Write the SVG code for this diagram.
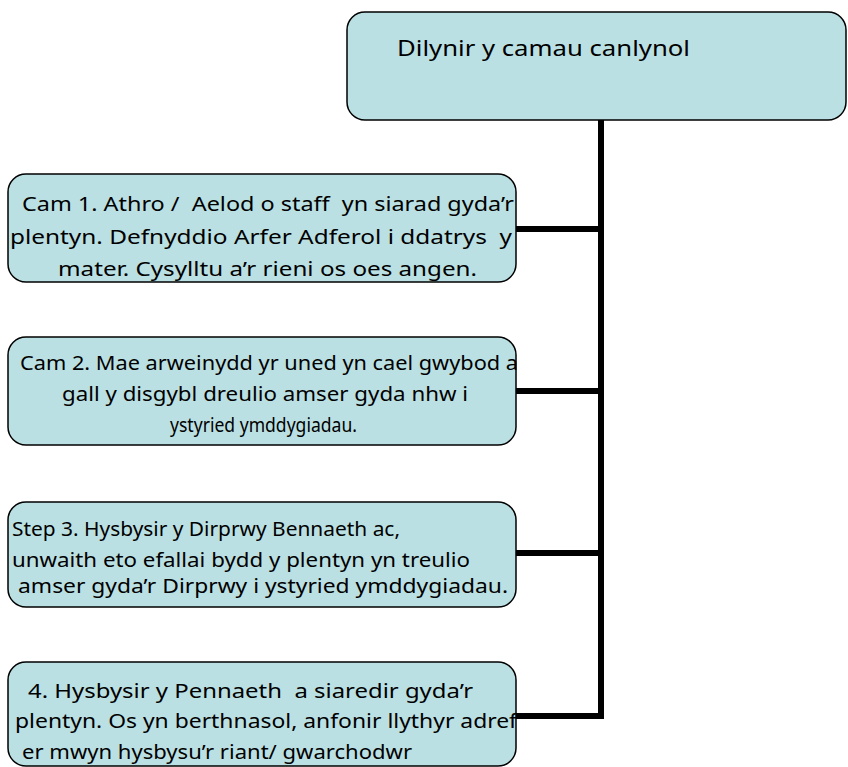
<svg xmlns="http://www.w3.org/2000/svg" width="848" height="767" viewBox="0 0 848 767">
<style>
.box{fill:#BBE0E3;stroke:#000;stroke-width:1.5}
.t{font-family:"Noto Sans","DejaVu Sans",sans-serif;font-size:19px;fill:#000;white-space:pre}
.h{font-family:"Noto Sans","DejaVu Sans",sans-serif;font-size:22px;fill:#000}
.c{fill:none;stroke:#000;stroke-width:6}
</style>
<rect width="848" height="767" fill="#fff"/>
<g id="connectors">
<path class="c" d="M601,120 V719"/>
<path class="c" d="M516,229 H604"/>
<path class="c" d="M516,391 H604"/>
<path class="c" d="M516,553 H604"/>
<path class="c" d="M516,716 H604"/>
</g>
<g id="top">
<rect class="box" x="347" y="12" width="499" height="108" rx="18"/>
<text class="h" x="397" y="56" textLength="293" lengthAdjust="spacingAndGlyphs">Dilynir y camau canlynol</text>
</g>
<g id="step1">
<rect class="box" x="8" y="174" width="508" height="108" rx="18"/>
<text class="t" xml:space="preserve" x="22" y="211" textLength="492" lengthAdjust="spacingAndGlyphs">Cam 1. Athro /  Aelod o staff  yn siarad gyda’r</text>
<text class="t" xml:space="preserve" x="10" y="244" textLength="502" lengthAdjust="spacingAndGlyphs">plentyn. Defnyddio Arfer Adferol i ddatrys  y</text>
<text class="t" x="58" y="276" textLength="419" lengthAdjust="spacingAndGlyphs">mater. Cysylltu a’r rieni os oes angen.</text>
</g>
<g id="step2">
<rect class="box" x="8" y="337" width="508" height="108" rx="18"/>
<text class="t" x="20" y="370" textLength="498" lengthAdjust="spacingAndGlyphs">Cam 2. Mae arweinydd yr uned yn cael gwybod a</text>
<text class="t" x="62" y="401" textLength="406" lengthAdjust="spacingAndGlyphs">gall y disgybl dreulio amser gyda nhw i</text>
<text class="t" x="170" y="432" textLength="187" lengthAdjust="spacingAndGlyphs">ystyried ymddygiadau.</text>
</g>
<g id="step3">
<rect class="box" x="8" y="502" width="508" height="105" rx="18"/>
<text class="t" x="12" y="536" textLength="388" lengthAdjust="spacingAndGlyphs">Step 3. Hysbysir y Dirprwy Bennaeth ac,</text>
<text class="t" x="12" y="567" textLength="458" lengthAdjust="spacingAndGlyphs">unwaith eto efallai bydd y plentyn yn treulio</text>
<text class="t" x="18" y="593" textLength="490" lengthAdjust="spacingAndGlyphs">amser gyda’r Dirprwy i ystyried ymddygiadau.</text>
</g>
<g id="step4">
<rect class="box" x="8" y="662" width="508" height="104" rx="18"/>
<text class="t" xml:space="preserve" x="28" y="698" textLength="445" lengthAdjust="spacingAndGlyphs">4. Hysbysir y Pennaeth  a siaredir gyda’r</text>
<text class="t" x="15" y="728" textLength="502" lengthAdjust="spacingAndGlyphs">plentyn. Os yn berthnasol, anfonir llythyr adref</text>
<text class="t" x="22" y="759" textLength="390" lengthAdjust="spacingAndGlyphs">er mwyn hysbysu’r riant/ gwarchodwr</text>
</g>
</svg>
